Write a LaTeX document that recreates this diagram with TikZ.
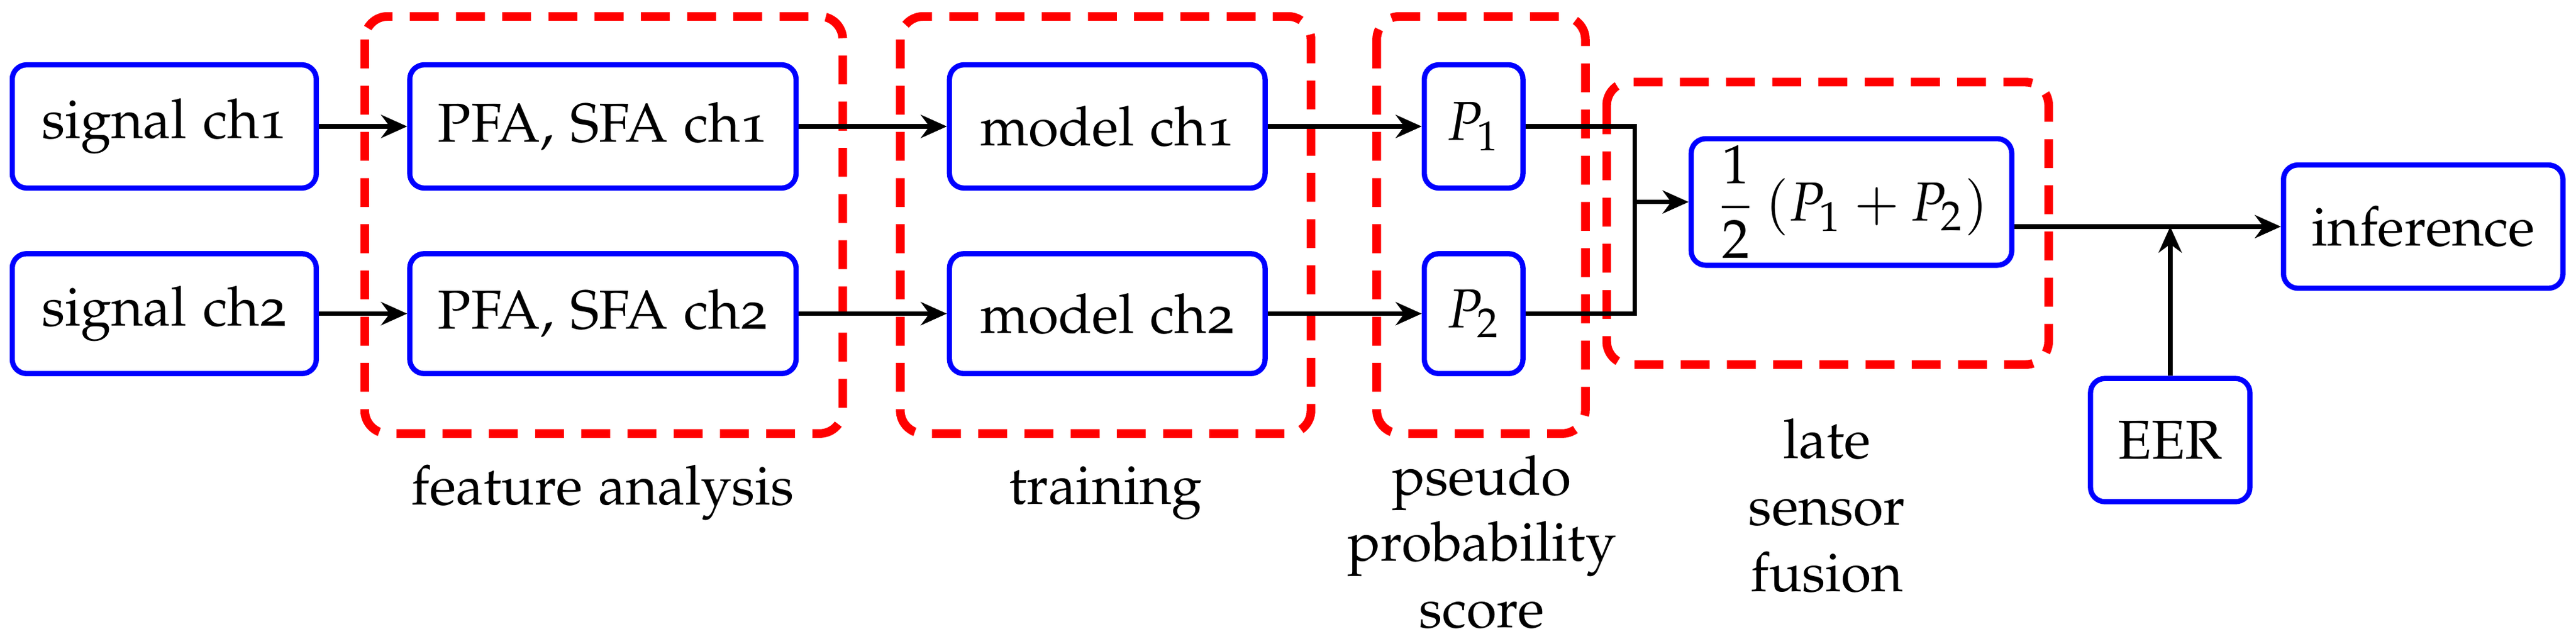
\documentclass[tikz,border=0pt]{standalone}
\usepackage[T1]{fontenc}
\usepackage[sc,osf]{mathpazo}
\usetikzlibrary{arrows.meta}
\begin{document}
\begin{tikzpicture}[x=0.01cm,y=-0.01cm,font=\fontsize{9.5}{11.5}\selectfont,
  blk/.style={draw=blue,line width=0.9pt,rounded corners=2.5pt,inner sep=0pt,align=center},
  grp/.style={draw=red,line width=1.5pt,dashed,dash pattern=on 5pt off 3pt,rounded corners=4pt},
  arr/.style={-{Stealth[length=4.5pt,width=4pt]},line width=0.8pt},
  lab/.style={align=center}]
\useasboundingbox (0,0) rectangle (1568,386);
% groups
\draw[grp] (222,10) rectangle (513,264);
\draw[grp] (548,10) rectangle (798,264);
\draw[grp] (838,10) rectangle (965,264);
\draw[grp] (978,50) rectangle (1247,222);
% blocks
\node[blk,minimum width=1.85cm,minimum height=0.75cm] (s1) at (100,77) {signal ch1};
\node[blk,minimum width=1.85cm,minimum height=0.73cm] (s2) at (100,191) {signal ch2};
\node[blk,minimum width=2.35cm,minimum height=0.75cm] (f1) at (367,77) {PFA, SFA ch1};
\node[blk,minimum width=2.35cm,minimum height=0.73cm] (f2) at (367,191) {PFA, SFA ch2};
\node[blk,minimum width=1.92cm,minimum height=0.75cm] (m1) at (674,77) {model ch1};
\node[blk,minimum width=1.92cm,minimum height=0.73cm] (m2) at (674,191) {model ch2};
\node[blk,minimum width=0.6cm,minimum height=0.75cm] (p1) at (897,77) {$P_1$};
\node[blk,minimum width=0.6cm,minimum height=0.73cm] (p2) at (897,191) {$P_2$};
\node[blk,minimum width=1.95cm,minimum height=0.77cm] (fu) at (1127,123) {$\displaystyle\frac{1}{2}\left(P_1+P_2\right)$};
\node[blk,minimum width=1.7cm,minimum height=0.75cm] (inf) at (1475,138) {inference};
\node[blk,minimum width=0.97cm,minimum height=0.75cm] (eer) at (1321,268) {EER};
% connectors
\draw[arr] (s1) -- (f1);
\draw[arr] (s2) -- (f2);
\draw[arr] (f1) -- (m1);
\draw[arr] (f2) -- (m2);
\draw[arr] (m1) -- (p1);
\draw[arr] (m2) -- (p2);
\coordinate (j) at (995,123);
\draw[line width=0.8pt] (p1.east) -| (j);
\draw[line width=0.8pt] (p2.east) -| (j);
\draw[arr] (j) -- (fu.west);
\coordinate (fo) at (fu.east |- inf.west);
\draw[arr] (fo) -- (inf.west);
\draw[arr] (eer.north) -- (eer.north |- inf.west);
% labels
\node[lab] at (367,300) {feature analysis};
\node[lab] at (673,300) {training};
\node[lab] at (902,330) {pseudo\\probability\\score};
\node[lab] at (1112,308) {late\\sensor\\fusion};
\end{tikzpicture}
\end{document}
